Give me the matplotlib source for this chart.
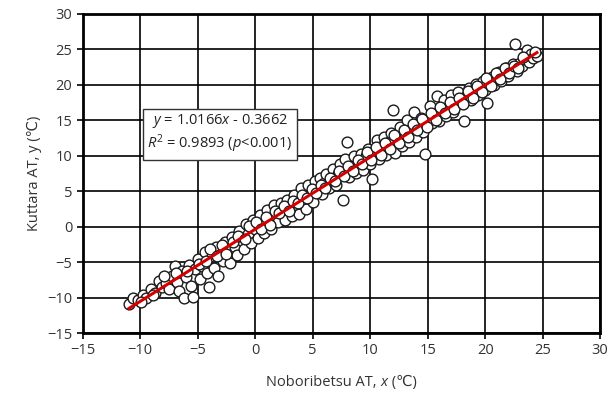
import numpy as np
import matplotlib.pyplot as plt
from matplotlib.offsetbox import TextArea, HPacker, AnchoredOffsetbox

plt.rcParams['font.family'] = ['Open Sans', 'DejaVu Sans']
plt.rcParams['mathtext.fontset'] = 'custom'
plt.rcParams['mathtext.rm'] = 'Open Sans'
plt.rcParams['mathtext.it'] = 'Open Sans:italic'

# Noboribetsu AT (x) vs Kuttara AT (y)
noboribetsu = [
    -11.0, -10.6, -10.2, -9.8, -9.5, -9.1, -8.7, -8.4, -8.1, -7.8, -7.5, -7.2, -7.0, -6.8, -6.6,
    -6.4, -6.2, -6.0, -5.8, -5.6, -5.4, -5.2, -5.0, -4.8, -4.6, -4.4, -4.2, -4.0, -3.8, -3.6,
    -3.4, -3.2, -3.0, -2.8, -2.6, -2.4, -2.2, -2.0, -1.8, -1.6, -1.4, -1.2, -1.0, -0.8, -0.6,
    -0.4, -0.2, 0.0, 0.2, 0.4, 0.6, 0.8, 1.0, 1.2, 1.4, 1.6, 1.8, 2.0, 2.2, 2.4,
    2.6, 2.8, 3.0, 3.2, 3.4, 3.6, 3.8, 4.0, 4.2, 4.4, 4.6, 4.8, 5.0, 5.2, 5.4,
    5.6, 5.8, 6.0, 6.2, 6.4, 6.6, 6.8, 7.0, 7.2, 7.4, 7.6, 7.8, 8.0, 8.2, 8.4,
    8.6, 8.8, 9.0, 9.2, 9.4, 9.6, 9.8, 10.0, 10.2, 10.4, 10.6, 10.8, 11.0, 11.2, 11.4,
    11.6, 11.8, 12.0, 12.2, 12.4, 12.6, 12.8, 13.0, 13.2, 13.4, 13.6, 13.8, 14.0, 14.2, 14.4,
    14.6, 14.8, 15.0, 15.2, 15.4, 15.6, 15.8, 16.0, 16.2, 16.4, 16.6, 16.8, 17.0, 17.2, 17.4,
    17.6, 17.8, 18.0, 18.2, 18.4, 18.6, 18.8, 19.0, 19.2, 19.4, 19.6, 19.8, 20.0, 20.2, 20.4,
    20.6, 20.8, 21.0, 21.2, 21.4, 21.6, 21.8, 22.0, 22.2, 22.4, 22.6, 22.8, 23.0, 23.2, 23.4,
    23.6, 23.8, 24.0, 24.2, 24.5,
    -9.9, -8.9, -7.9, -6.9, -5.9, -4.9, -4.3, -3.9, -3.3, -2.9, -2.5, -1.9, -1.5, -0.9, -0.5,
    0.1, 0.5, 0.9, 1.3, 1.7, 2.1, 2.5, 2.9, 3.3, 3.7, 4.1, 4.5, 4.9, 5.3, 5.7,
    6.1, 6.5, 6.9, 7.3, 7.7, 8.1, 8.5, 8.9, 9.3, 9.7, 10.1, 10.5, 10.9, 11.3, 11.7,
    12.1, 12.5, 12.9, 13.3, 13.7, 14.1, 14.5, 14.9, 15.3, 15.7, 16.1, 16.5, 16.9, 17.3, 17.7,
    18.1, 18.5, 18.9, 19.3, 19.7, 20.1, 20.5, 20.9, 21.3, 21.7, 22.1, 22.5, 22.9, 23.3, 24.3,
]
kuttara = [
    -10.9, -10.0, -10.4, -9.6, -10.1, -8.8, -9.3, -7.6, -8.5, -7.9, -8.8, -6.9, -5.6, -7.8, -9.1,
    -6.2, -10.0, -7.1, -5.4, -8.3, -9.9, -6.0, -4.6, -7.4, -5.5, -3.6, -6.5, -8.5, -4.2, -5.8,
    -2.9, -7.0, -3.9, -4.8, -2.2, -3.4, -5.1, -1.5, -2.9, -4.0, -0.6, -1.9, -3.2, 0.4, -1.1,
    -2.3, 0.9, -0.4, -1.6, 1.6, 0.2, -0.9, 2.3, 1.0, -0.3, 3.0, 1.5, 0.6, 3.4, 2.1,
    1.0, 3.8, 2.6, 1.5, 4.5, 3.0, 1.8, 5.4, 3.7, 2.5, 5.9, 4.4, 3.5, 6.4, 5.0,
    6.9, 4.6, 6.2, 7.4, 5.5, 6.8, 8.1, 5.9, 7.4, 8.8, 3.8, 9.6, 12.0, 7.0, 8.6,
    9.9, 7.5, 9.1, 10.3, 8.0, 9.9, 11.0, 8.8, 6.7, 10.8, 12.2, 9.6, 11.4, 12.6, 10.1,
    11.9, 13.2, 16.5, 10.4, 12.5, 14.0, 11.3, 13.1, 15.0, 12.0, 13.8, 16.1, 12.7, 14.3, 15.3,
    13.4, 10.3, 15.1, 17.0, 14.6, 15.8, 18.4, 14.9, 16.3, 17.8, 15.6, 16.9, 18.6, 16.2, 17.4,
    19.0, 17.6, 17.8, 14.9, 18.5, 19.5, 17.9, 18.9, 20.1, 18.6, 19.7, 20.6, 19.2, 17.4, 20.3,
    21.1, 19.9, 21.0, 21.8, 20.6, 21.6, 22.3, 21.3, 22.2, 22.9, 25.8, 22.0, 23.1, 22.6, 23.6,
    24.9, 23.2, 24.4, 23.8, 24.0,
    -10.6, -9.6, -7.0, -6.6, -6.3, -5.2, -4.9, -3.2, -4.1, -2.6, -3.9, -2.2, -1.3, -1.8, 0.1,
    0.6, -0.3, 1.4, 0.3, 2.2, 1.9, 2.9, 2.2, 3.6, 3.4, 4.5, 4.0, 5.3, 4.8, 5.9,
    5.4, 6.9, 6.4, 7.9, 7.2, 8.6, 7.9, 9.4, 8.8, 10.5, 9.4, 11.2, 10.1, 11.8, 10.9,
    12.9, 11.8, 13.6, 12.6, 14.5, 13.6, 15.2, 14.0, 16.0, 15.1, 16.9, 16.0, 17.6, 16.6, 18.2,
    17.3, 19.1, 18.2, 19.8, 19.0, 20.9, 19.8, 21.6, 20.8, 22.4, 21.6, 22.6, 22.3, 23.9, 24.6,
]

slope = 1.0166
intercept = -0.3662
r_squared = 0.9893

x_ticks = [-15, -10, -5, 0, 5, 10, 15, 20, 25, 30]
y_ticks = [-15, -10, -5, 0, 5, 10, 15, 20, 25, 30]

fig = plt.figure(figsize=(6.13, 3.96), dpi=100)
ax = fig.add_axes([0.135, 0.159, 0.844, 0.806])

ax.scatter(noboribetsu, kuttara, s=60, facecolors='white', edgecolors='#1a1a1a',
           linewidths=1.0, zorder=3)

x_fit = np.array([min(noboribetsu), max(noboribetsu)])
ax.plot(x_fit, slope * x_fit + intercept, color='#d40000', linewidth=2.2, zorder=4)

ax.set_xlim(-15, 30)
ax.set_ylim(-15, 30)
ax.set_xticks(x_ticks)
ax.set_yticks(y_ticks)
ax.grid(True, color='black', linewidth=1.2)
ax.set_axisbelow(True)
for sp in ax.spines.values():
    sp.set_linewidth(2.0)
    sp.set_color('black')
ax.tick_params(direction='out', length=4, width=1.2, labelsize=10.5, labelcolor='#333333',
               color='black')

# x label built from pieces so the x is italic and the degree sign renders
lab_style = dict(fontsize=10.5, color='#333333')
parts = [TextArea('Noboribetsu AT, ', textprops=lab_style),
         TextArea('x', textprops=dict(style='italic', **lab_style)),
         TextArea(' (\u2103)', textprops=lab_style)]
xlab = AnchoredOffsetbox(loc='center', child=HPacker(children=parts, pad=0, sep=0),
                         bbox_to_anchor=(0.5, -0.155), bbox_transform=ax.transAxes,
                         frameon=False, pad=0, borderpad=0)
ax.add_artist(xlab)
ax.set_ylabel('Kuttara AT, y (\u2103)', fontsize=10.5, color='#333333', labelpad=4)

eq_text = (f'$y$ = {slope:.4f}$x$ - {abs(intercept):.4f}\n'
           f'$R^2$ = {r_squared:.4f} ($p$<0.001)')
ax.text(-3.1, 13.1, eq_text, ha='center', va='center', fontsize=10.5, color='#222222',
        linespacing=1.15, zorder=6,
        bbox=dict(boxstyle='square,pad=0.3', facecolor='white', edgecolor='#333333',
                  linewidth=1.0))

fig.savefig('out.png', dpi=100)
